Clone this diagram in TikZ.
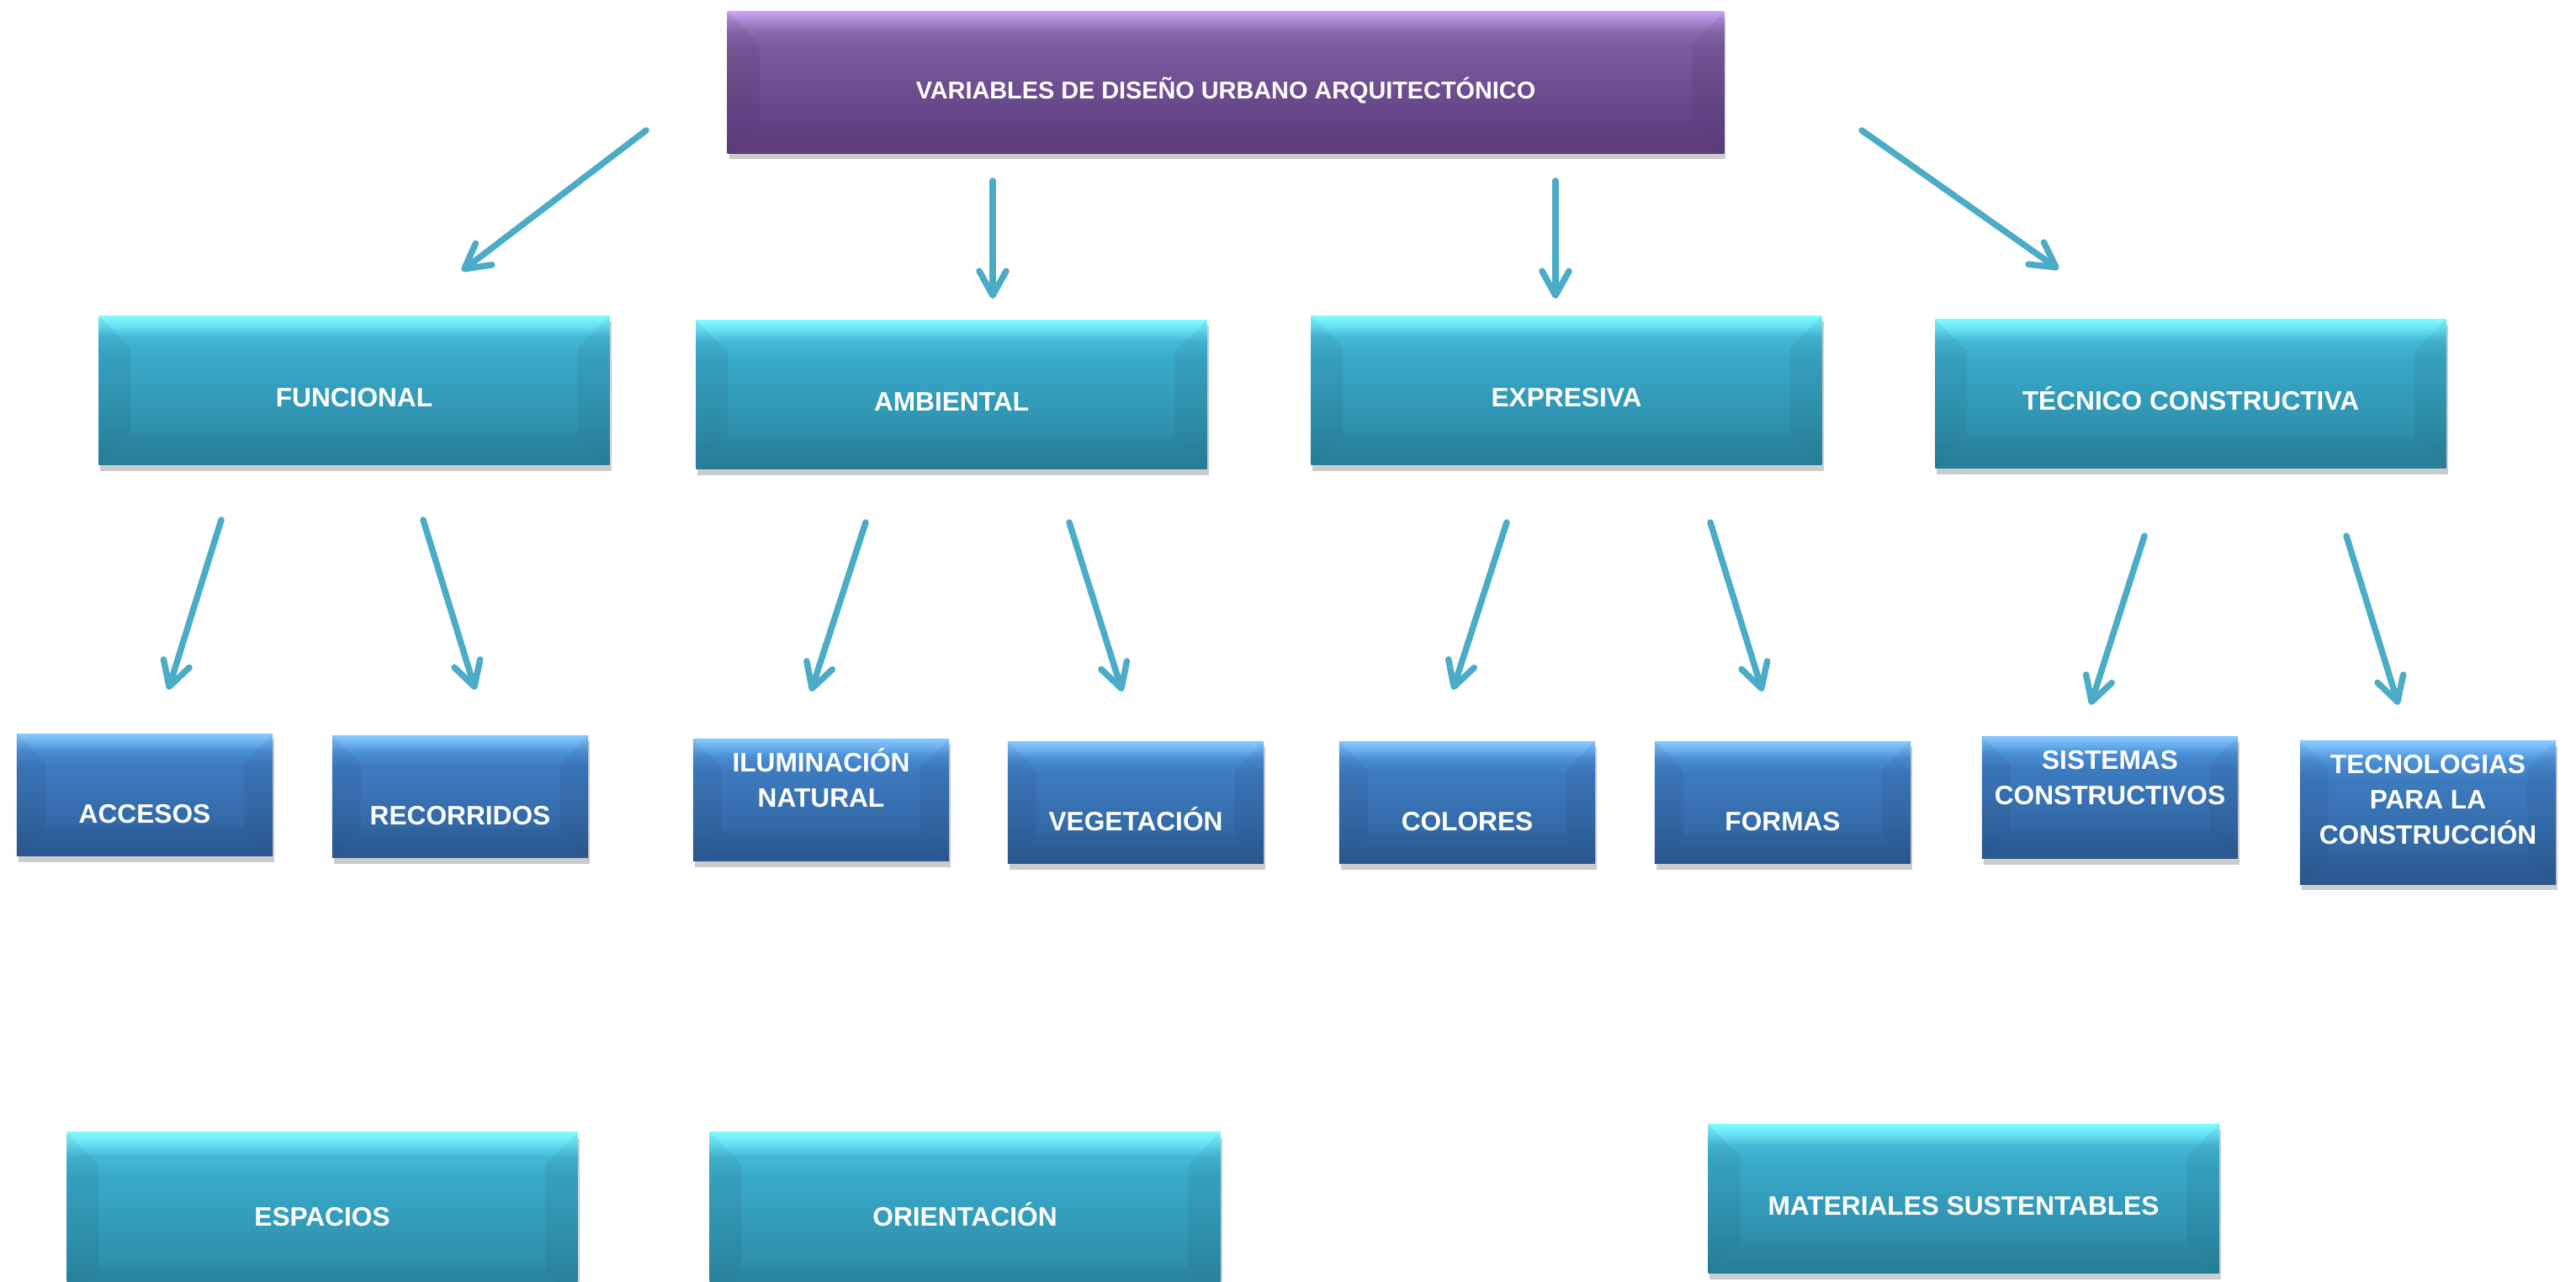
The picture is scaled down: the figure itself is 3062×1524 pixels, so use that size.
\documentclass[tikz,border=0pt]{standalone}
\usepackage{fontspec}
\setmainfont{Liberation Sans}
\usetikzlibrary{positioning}
\usetikzlibrary{calc}
\usetikzlibrary{arrows.meta}
\usetikzlibrary{shadows}

% Cores
\definecolor{verdeA}{HTML}{28829C}
\definecolor{verdeB}{HTML}{2F93B0}
\definecolor{verdeC}{HTML}{39A9C9}
\definecolor{verdeD}{HTML}{45BAD8}
\definecolor{verdeE}{HTML}{6AE4F6}
\definecolor{verdeF}{HTML}{80FCFF}
\definecolor{azulA}{HTML}{2C5A93}
\definecolor{azulB}{HTML}{336AA8}
\definecolor{azulC}{HTML}{3D7BC0}
\definecolor{azulD}{HTML}{4A8ED4}
\definecolor{azulE}{HTML}{6CB2F0}
\definecolor{azulF}{HTML}{88C8FF}
\definecolor{roxoA}{HTML}{5D3F7E}
\definecolor{roxoB}{HTML}{664789}
\definecolor{roxoC}{HTML}{7A5A9C}
\definecolor{roxoD}{HTML}{8A6AAE}
\definecolor{roxoE}{HTML}{AA88D4}
\definecolor{roxoF}{HTML}{CAA4F2}
\definecolor{corseta}{HTML}{4AACC6}

\pgfdeclareverticalshading{gradverde}{100bp}{color(0bp)=(verdeA); color(25bp)=(verdeA); color(40bp)=(verdeB); color(62bp)=(verdeC); color(68bp)=(verdeD); color(72bp)=(verdeE); color(75bp)=(verdeF); color(100bp)=(verdeF)}
\pgfdeclareverticalshading{gradazul}{100bp}{color(0bp)=(azulA); color(25bp)=(azulA); color(40bp)=(azulB); color(62bp)=(azulC); color(68bp)=(azulD); color(72bp)=(azulE); color(75bp)=(azulF); color(100bp)=(azulF)}
\pgfdeclareverticalshading{gradroxo}{100bp}{color(0bp)=(roxoA); color(25bp)=(roxoA); color(40bp)=(roxoB); color(62bp)=(roxoC); color(68bp)=(roxoD); color(72bp)=(roxoE); color(75bp)=(roxoF); color(100bp)=(roxoF)}

\tikzset{
  chanfro/.style={path picture={
    \fill[black, opacity=0.05] (path picture bounding box.north west) -- ([shift={(#1,-#1)}]path picture bounding box.north west) -- ([shift={(#1,#1)}]path picture bounding box.south west) -- (path picture bounding box.south west) -- cycle;
    \fill[black, opacity=0.05] (path picture bounding box.north east) -- ([shift={(-#1,-#1)}]path picture bounding box.north east) -- ([shift={(-#1,#1)}]path picture bounding box.south east) -- (path picture bounding box.south east) -- cycle;
    \fill[black, opacity=0.03] (path picture bounding box.south west) -- ([shift={(#1,#1)}]path picture bounding box.south west) -- ([shift={(-#1,#1)}]path picture bounding box.south east) -- (path picture bounding box.south east) -- cycle;
  }},
  caixa/.style={rectangle, inner sep=0pt, text=white, align=center,
    font=\fontsize{9pt}{12pt}\selectfont\bfseries,
    drop shadow={shadow xshift=0.02cm, shadow yshift=-0.07cm, fill=black, opacity=0.2}},
  caixaverde/.style={caixa, shading=gradverde, chanfro=0.38cm,
    minimum width=6.07cm, minimum height=1.77cm, text height=0.39cm, text depth=0cm},
  caixaazul/.style={caixa, shading=gradazul, chanfro=0.34cm,
    minimum width=3.04cm, minimum height=1.45cm, text height=0.67cm, text depth=0cm},
  caixaroxa/.style={caixa, shading=gradroxo, chanfro=0.38cm,
    minimum width=11.84cm, minimum height=1.68cm, text height=0.38cm, text depth=0cm,
    font=\fontsize{8.2pt}{11pt}\selectfont\bfseries},
  seta/.style={draw=corseta, line width=0.075cm, line cap=round,
    -{Straight Barb[length=0.29cm, width=0.32cm, round]}},
}

\begin{document}
\begin{tikzpicture}[x=0.01cm, y=-0.01cm]
    \path[use as bounding box, fill=white] (0,0) rectangle (3062,1524);

    % Caixa principal
    \node[caixaroxa] (titulo) at (1457,98) {VARIABLES DE DISEÑO URBANO ARQUITECTÓNICO};

    % Variáveis
    \node[caixaverde] (funcional) at (421,464) {FUNCIONAL};
    \node[caixaverde] (ambiental) at (1131,469) {AMBIENTAL};
    \node[caixaverde] (expresiva) at (1862,464) {EXPRESIVA};
    \node[caixaverde] (tecnico) at (2604,468) {TÉCNICO CONSTRUCTIVA};

    % Componentes
    \node[caixaazul] (accesos) at (172,945) {ACCESOS};
    \node[caixaazul] (recorridos) at (547,947) {RECORRIDOS};
    \node[caixaazul, text height=0.47cm, text depth=0.3cm] (iluminacion) at (976,951) {ILUMINACIÓN\\NATURAL};
    \node[caixaazul] (vegetacion) at (1350,954) {VEGETACIÓN};
    \node[caixaazul] (colores) at (1744,954) {COLORES};
    \node[caixaazul] (formas) at (2119,954) {FORMAS};
    \node[caixaazul, text height=0.47cm, text depth=0.3cm] (sistemas) at (2508,948) {SISTEMAS\\CONSTRUCTIVOS};
    \node[caixaazul, minimum height=1.7cm, text height=1cm, text depth=0.25cm] (tecnologias) at (2886,966) {TECNOLOGIAS\\PARA LA\\CONSTRUCCIÓN};

    % Caixas de baixo
    \node[caixaverde, minimum height=2cm, text height=0.227cm] (espacios) at (383,1446) {ESPACIOS};
    \node[caixaverde, minimum height=2cm, text height=0.227cm] (orientacion) at (1147,1446) {ORIENTACIÓN};
    \node[caixaverde] (materiales) at (2334,1425) {MATERIALES SUSTENTABLES};

    % Setas
    \foreach \i/\xa/\ya/\xb/\yb in {1/768/155/549/322, 2/1180/215/1180/355, 3/1849/215/1849/355, 4/2213/155/2447/320,
        5/263/618/200/820, 6/503/618/565/820, 7/1029/621/964/822, 8/1271/621/1334/822,
        9/1791/621/1727/820, 10/2033/621/2095/822, 11/2549/637/2485/838, 12/2789/637/2851/838}
    {
    \coordinate (ini\i) at (\xa,\ya);
    \coordinate (fim\i) at (\xb,\yb);
    \draw[seta] (ini\i) -- (fim\i);
    }
\end{tikzpicture}
\end{document}
